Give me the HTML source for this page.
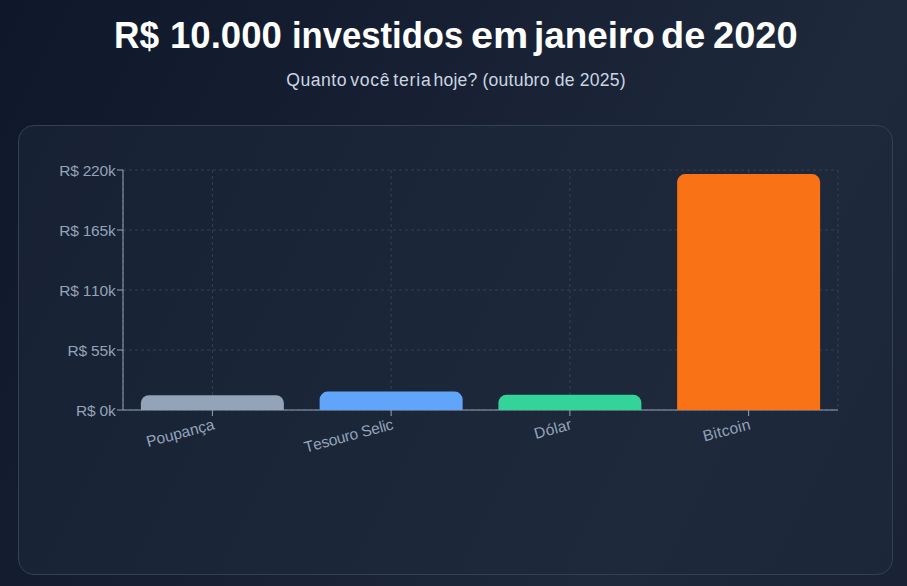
<!DOCTYPE html>
<html lang="pt-BR">
<head>
<meta charset="utf-8">
<title>R$ 10.000 investidos em janeiro de 2020</title>
<style>
  html, body { margin: 0; padding: 0; }
  html { background: #0f172a; }
  body {
    width: 907px; height: 586px; overflow: hidden; position: relative;
    font-family: "Liberation Sans", sans-serif;
  }
  .bg {
    position: absolute; left: 0; top: 0; width: 907px; height: 1758px;
    background: linear-gradient(to bottom right, #0f172a 0%, #1e293b 50%, #0f172a 100%);
  }
  h1 {
    position: absolute; left: 0; top: 13px; width: 907px; height: 44px; margin: 0;
    white-space: nowrap;
    font-size: 37.5px; line-height: 44px; font-weight: bold; color: #ffffff;
  }
  h1 span { position: absolute; top: 0; display: block; transform-origin: 0 0; }
  .sub {
    position: absolute; left: 0; top: 66px; width: 912px; margin: 0;
    text-align: center; white-space: nowrap;
    font-size: 17.6px; line-height: 28px; color: #cbd5e1; letter-spacing: 0.19px;
  }
  .card {
    position: absolute; left: 18px; top: 125px; width: 873px; height: 448px;
    border: 1px solid #334155; border-radius: 16px;
    background: rgba(30, 41, 59, 0.5);
  }
  svg.chart { position: absolute; left: 0; top: 0; }
  svg.chart text { font-family: "Liberation Sans", sans-serif; font-size: 15.5px; fill: #94a3b8; font-kerning: none; }
  svg.chart .yl text { letter-spacing: -0.2px; }
</style>
</head>
<body>
<div class="bg"></div>
<h1><span style="left:114.4px;transform:scaleX(0.94)">R$ </span><span style="left:170.2px;transform:scaleX(0.975)">10.000 </span><span style="left:291.6px;transform:scaleX(0.923)">investidos </span><span style="left:471.1px;transform:scaleX(1.057)">em </span><span style="left:533.9px;transform:scaleX(0.983)">janeiro </span><span style="left:661.4px;transform:scaleX(1.01)">de </span><span style="left:713.4px;transform:scaleX(1.015)">2020</span></h1>
<p class="sub"><span style="letter-spacing:0.5px;margin-right:-1.9px">Quanto</span> <span style="letter-spacing:0.74px;margin-right:-2.2px">você</span> <span style="letter-spacing:0.83px;margin-right:-3.2px">teria</span> hoje? (outubro de 2025)</p>
<div class="card"></div>
<svg class="chart" width="907" height="586" viewBox="0 0 907 586">
  <!-- grid -->
  <g stroke="#334155" stroke-dasharray="3 3" stroke-width="1" fill="none">
    <line x1="123" y1="410" x2="838" y2="410"/>
    <line x1="123" y1="350" x2="838" y2="350"/>
    <line x1="123" y1="290" x2="838" y2="290"/>
    <line x1="123" y1="230" x2="838" y2="230"/>
    <line x1="123" y1="170" x2="838" y2="170"/>
    <line x1="123" y1="170" x2="123" y2="410"/>
    <line x1="212.375" y1="170" x2="212.375" y2="410"/>
    <line x1="391.125" y1="170" x2="391.125" y2="410"/>
    <line x1="569.875" y1="170" x2="569.875" y2="410"/>
    <line x1="748.625" y1="170" x2="748.625" y2="410"/>
    <line x1="838" y1="170" x2="838" y2="410"/>
  </g>
  <!-- x axis -->
  <g stroke="#94a3b8" stroke-width="1" fill="none">
    <line x1="123" y1="410" x2="838" y2="410"/>
    <line x1="212.375" y1="410" x2="212.375" y2="416"/>
    <line x1="391.125" y1="410" x2="391.125" y2="416"/>
    <line x1="569.875" y1="410" x2="569.875" y2="416"/>
    <line x1="748.625" y1="410" x2="748.625" y2="416"/>
  </g>
  <g text-anchor="end">
    <text x="212.375" y="418" transform="rotate(-15 212.375 418)" ><tspan x="212.375" dy="11.36">Poupança</tspan></text>
    <text x="391.125" y="418" transform="rotate(-15 391.125 418)" style="letter-spacing:-0.25px"><tspan x="391.125" dy="11.36">Tesouro Selic</tspan></text>
    <text x="569.875" y="418" transform="rotate(-15 569.875 418)" style="letter-spacing:0.25px"><tspan x="569.875" dy="11.36">Dólar</tspan></text>
    <text x="748.625" y="418" transform="rotate(-15 748.625 418)" style="letter-spacing:0.3px"><tspan x="748.625" dy="11.36">Bitcoin</tspan></text>
  </g>
  <!-- y axis -->
  <g stroke="#94a3b8" stroke-width="1" fill="none">
    <line x1="123" y1="170" x2="123" y2="410"/>
    <line x1="117" y1="410" x2="123" y2="410"/>
    <line x1="117" y1="350" x2="123" y2="350"/>
    <line x1="117" y1="290" x2="123" y2="290"/>
    <line x1="117" y1="230" x2="123" y2="230"/>
    <line x1="117" y1="170" x2="123" y2="170"/>
  </g>
  <g text-anchor="end" class="yl">
    <text x="115.5" y="415.7">R$ 0k</text>
    <text x="115.5" y="355.7">R$ 55k</text>
    <text x="115.5" y="295.7">R$ 110k</text>
    <text x="115.5" y="235.7">R$ 165k</text>
    <text x="115.5" y="175.7">R$ 220k</text>
  </g>
  <!-- bars -->
  <path fill="#94a3b8" d="M140.875,410 V403.2 a8,8 0 0 1 8,-8 H275.875 a8,8 0 0 1 8,8 V410 Z"/>
  <path fill="#60a5fa" d="M319.625,410 V399.6 a8,8 0 0 1 8,-8 H454.625 a8,8 0 0 1 8,8 V410 Z"/>
  <path fill="#34d399" d="M498.375,410 V402.8 a8,8 0 0 1 8,-8 H633.375 a8,8 0 0 1 8,8 V410 Z"/>
  <path fill="#f97316" d="M677.125,410 V182.1 a8,8 0 0 1 8,-8 H812.125 a8,8 0 0 1 8,8 V410 Z"/>
</svg>
</body>
</html>
